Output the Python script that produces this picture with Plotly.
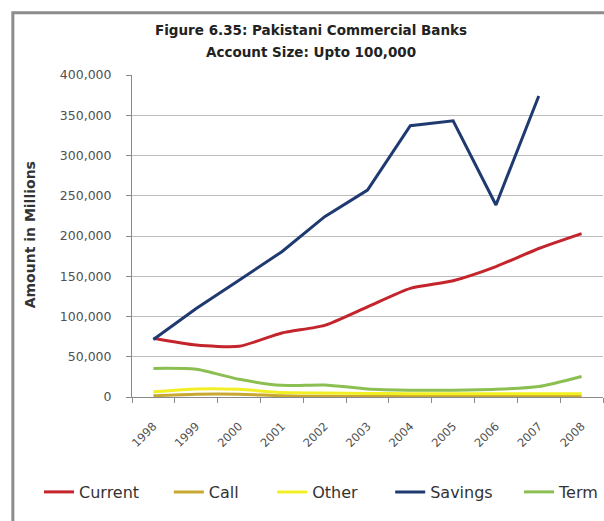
import plotly.graph_objects as go

# Deposits by account type, accounts up to Rs 100,000 (million rupees)
years = ["1998", "1999", "2000", "2001", "2002", "2003", "2004", "2005", "2006", "2007", "2008"]
current = [73000, 64500, 63000, 79500, 89000, 112000, 135000, 144500, 162000, 184500, 203000]
call = [1500, 3500, 3500, 1500, 800, 500, 500, 500, 500, 500, 500]
other = [6500, 10000, 9500, 5500, 5000, 4500, 4000, 4000, 4000, 4000, 4000]
savings = [71500, 110000, 145000, 180500, 224000, 257000, 337000, 343000, 238500, 374000, None]
term = [35500, 34500, 22000, 14500, 15000, 10000, 8500, 8500, 9500, 13000, 25500]

title_lines = ["Figure 6.35: Pakistani Commercial Banks", "Account Size: Upto 100,000"]

FONT = "DejaVu Sans"

# name, values, colour, line shape, legend x position (paper units)
series = [
    ("Current", current, "#C4242B", "spline", -0.197),
    ("Call", call, "#C8A830", "spline", 0.078),
    ("Other", other, "#F2F024", "spline", 0.297),
    ("Savings", savings, "#1F3A70", "linear", 0.547),
    ("Term", term, "#8CBF52", "spline", 0.822),
]

fig = go.Figure()
legend_layouts = {}
for i, (name, vals, color, shape, lx) in enumerate(series):
    key = "legend" if i == 0 else f"legend{i + 1}"
    fig.add_trace(go.Scatter(
        x=years, y=vals, name=name, mode="lines",
        line=dict(color=color, width=3, shape=shape, smoothing=0.6),
        connectgaps=False, legend=key,
    ))
    legend_layouts[key] = dict(
        orientation="h", x=lx, xanchor="left", y=-0.295, yanchor="middle",
        font=dict(family=FONT, size=16, color="#333333"),
        bgcolor="rgba(0,0,0,0)",
    )

# two-line heading, each line placed separately for wider line spacing
heading = [
    dict(text=line, xref="paper", yref="paper", x=0.381, y=yy,
         xanchor="center", yanchor="middle", showarrow=False,
         font=dict(family=FONT, size=13.5, color="#222222", weight="bold"))
    for line, yy in zip(title_lines, [1.1398, 1.0714])
]

fig.update_layout(
    width=604, height=521,
    margin=dict(l=132, r=0, t=75, b=124),
    paper_bgcolor="white", plot_bgcolor="white",
    font=dict(family=FONT, color="#404040"),
    showlegend=True,
    **legend_layouts,
    xaxis=dict(
        type="category", range=[-0.5, 10.5],
        showline=True, linecolor="#8A8A8A", linewidth=1,
        ticks="outside", tickson="boundaries", ticklen=5, tickcolor="#8A8A8A",
        tickangle=-45, ticklabelstandoff=17,
        tickfont=dict(family=FONT, size=11.5, color="#505050"),
        showgrid=False, zeroline=False,
    ),
    yaxis=dict(
        range=[0, 400000], dtick=50000, tickformat=",",
        showline=True, linecolor="#8A8A8A", linewidth=1,
        ticks="outside", ticklen=5, tickcolor="#8A8A8A",
        tickfont=dict(family=FONT, size=12.5, color="#505050"),
        showgrid=True, gridcolor="#BDBDBD", gridwidth=1,
        zeroline=False, ticklabelstandoff=12,
    ),
    annotations=heading + [dict(
        text="Amount in Millions", textangle=-90,
        xref="paper", yref="paper", x=-0.216, y=0.503,
        xanchor="center", yanchor="middle", showarrow=False,
        font=dict(family=FONT, size=14, color="#333333", weight="bold"),
    )],
    shapes=[dict(
        type="rect", xref="paper", yref="paper",
        x0=-0.253, x1=1.03, y0=-0.45, y1=1.193,
        line=dict(color="#8C8C8C", width=3), layer="below",
    )],
)

fig.write_html("out.html")
